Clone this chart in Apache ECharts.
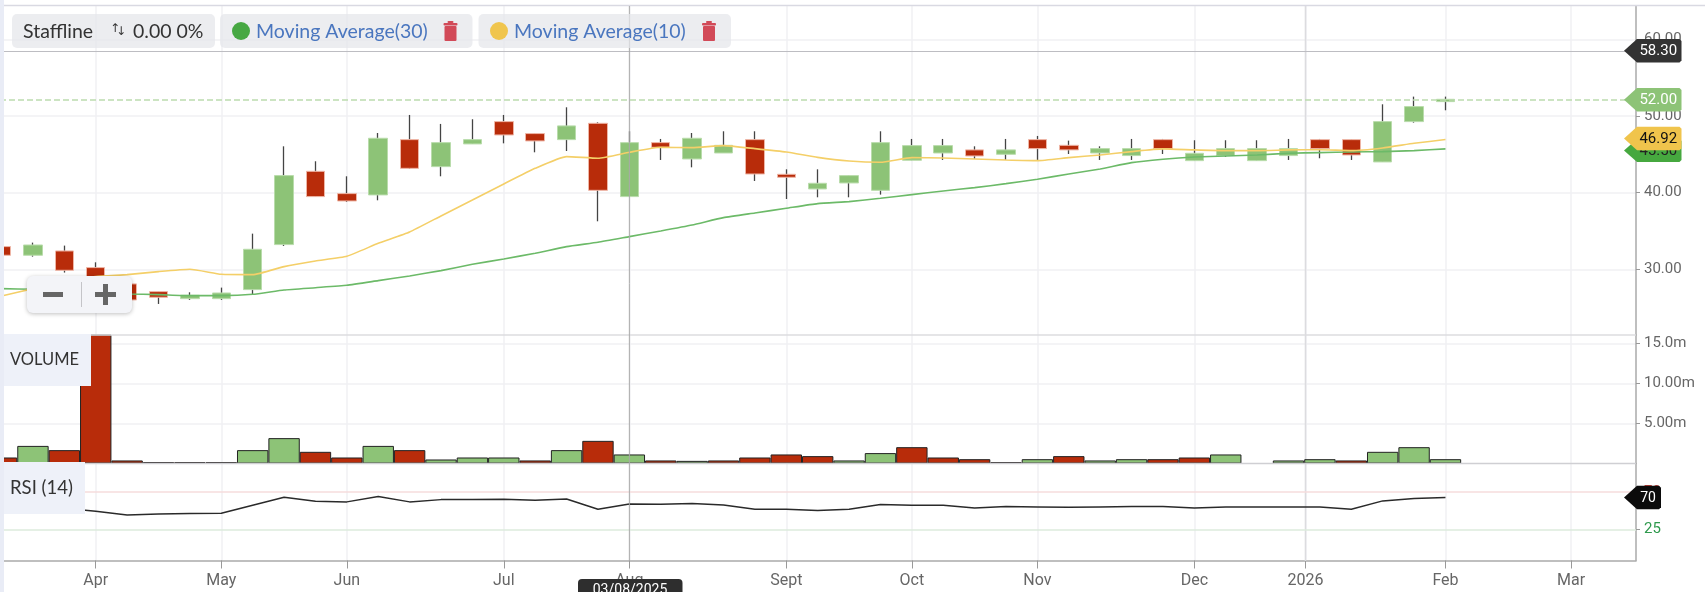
<!DOCTYPE html>
<html><head><meta charset="utf-8">
<style>html,body{margin:0;padding:0;background:#fff;overflow:hidden}#c{width:1705px;height:592px}</style>
<script src="https://cdn.jsdelivr.net/npm/echarts@6/dist/echarts.min.js"></script>
</head><body><div id="c"></div>
<script>
const opens=[32.96,31.83,32.39,30.22,28.09,27.09,26.17,26.17,27.35,33.22,42.78,39.87,39.7,46.91,43.39,46.35,49.26,47.7,46.91,49.04,39.48,46.52,44.39,45.17,46.91,42.39,40.48,41.26,40.3,44.22,45.17,45.57,45.0,46.91,46.17,45.17,44.83,46.91,44.17,44.83,44.17,44.83,46.91,46.91,44.0,49.26,51.87];
const closes=[31.83,33.17,29.87,28.1,26.0,26.35,26.61,26.91,32.61,42.22,39.48,38.91,47.09,43.17,46.52,46.91,47.52,46.74,48.7,40.3,46.52,45.91,47.09,46.17,42.43,42.0,41.22,42.22,46.52,46.13,46.13,44.78,45.57,45.74,45.57,45.74,45.74,45.74,45.13,45.74,45.74,45.74,45.74,44.91,49.26,51.22,52.17];
const lows=[31.83,31.65,29.57,27.9,25.9,25.48,26.0,26.0,26.65,33.04,39.48,38.78,39.0,43.09,42.13,46.35,46.43,45.26,45.43,36.26,39.48,44.26,43.3,45.17,41.52,39.17,39.39,39.39,39.74,44.22,44.26,44.39,44.26,44.26,45.04,44.26,44.26,45.04,44.17,44.65,44.17,44.26,44.48,44.26,44.0,49.13,50.74];
const highs=[32.96,33.48,33.09,30.91,28.3,27.09,27.0,27.61,34.65,46.04,44.09,42.13,47.78,50.13,48.96,49.57,50.13,47.7,51.13,49.17,48.0,47.0,47.78,48.0,48.0,43.04,43.04,42.22,48.0,47.0,47.0,46.04,47.0,47.39,46.78,46.04,47.0,47.0,46.83,46.83,46.83,47.0,47.0,46.91,51.52,52.52,52.52];
const ma30=[27.48,27.39,27.2,27.0,26.78,26.7,26.57,26.57,26.74,27.3,27.6,27.91,28.52,29.13,29.83,30.65,31.35,32.09,32.96,33.52,34.26,35.0,35.78,36.74,37.35,37.96,38.57,38.83,39.26,39.74,40.22,40.65,41.17,41.74,42.43,43.09,43.91,44.35,44.65,44.78,44.91,45.13,45.22,45.3,45.35,45.48,45.7];
const ma10=[26.52,27.48,28.39,29.04,29.3,29.7,30.0,29.35,29.3,30.35,31.09,31.7,33.39,34.87,36.96,39.04,41.13,43.17,44.7,44.48,45.26,45.91,45.87,46.13,45.74,45.3,44.6,44.13,43.96,44.57,44.52,44.39,44.26,44.17,44.57,44.91,45.35,45.7,45.57,45.48,45.48,45.57,45.6,45.48,45.83,46.43,46.92];
const volumes=[0.75,2.2,1.67,16.2,0.38,0.17,0.17,0.17,1.67,3.17,1.46,0.75,2.2,1.67,0.5,0.75,0.75,0.38,1.67,2.83,1.13,0.38,0.33,0.38,0.75,1.13,0.92,0.38,1.3,2.04,0.75,0.54,0.17,0.54,0.92,0.38,0.54,0.54,0.75,1.13,null,0.38,0.54,0.38,1.46,2.04,0.54];
const volumeUp=[0,1,0,0,0,0,0,0,1,1,0,0,1,0,1,1,1,0,1,0,1,0,1,0,0,0,0,1,1,0,0,0,0,1,0,1,1,0,0,1,1,1,1,0,1,1,1];
const rsi=[52.5,51.7,50.5,46.9,42.5,43.7,44.1,44.5,54.1,63.6,58.9,58.1,64.4,58.1,60.8,60.8,61.2,60,61.6,49.3,55.7,55.3,56.1,54.5,49.3,49.3,47.7,49.3,54.9,54.1,54.1,50.9,52.5,52.1,51.7,52.1,52.5,52.5,50.9,52.1,52.1,52.1,52.1,49.3,59.3,62,63.2];
const monthTicks=[3,7,11,16,20,25,29,33,38,41.54,46,50];
const monthLabels=['Apr','May','Jun','Jul','Aug','Sept','Oct','Nov','Dec','2026','Feb','Mar'];
const priceTicks=[30,40,50,60];
const volumeTicks=[5,10,15];
const volumeLabels=['5.00m','10.00m','15.0m'];
const rsiTicks=[25,70];
const lastPrice=52.1, crossPrice=58.5, ma10Last=46.92, ma30Last=45.5;

const GREEN='#8dc377',RED='#b82c0a';
const idx=a=>a.map((v,i)=>[i,v]);
const xMin=-0.05,xMax=52.07;
const chart=echarts.init(document.getElementById('c'),null,{renderer:'canvas'});
const font='Roboto';
function xAxisOf(gi,showLabels){
  return {type:'value',gridIndex:gi,min:xMin,max:xMax,
    axisLine:{show:showLabels,onZero:false,lineStyle:{color:'#aaa',width:1.5}},
    axisTick:{show:showLabels,customValues:monthTicks,length:8,lineStyle:{color:'#999'}},
    axisLabel:{show:showLabels,customValues:monthTicks,margin:12,color:'#666',fontFamily:font,fontSize:16,
      formatter:v=>monthLabels[monthTicks.indexOf(v)]||''},
    splitLine:{show:true,lineStyle:{color:'#f1f1f3',width:1.5}}};
}
function yAxisOf(gi,min,max,ticks,fmt,split,colorFn){
  return {type:'value',gridIndex:gi,position:'right',min,max,scale:true,
    axisLine:{show:true,onZero:false,lineStyle:{color:'#aaa',width:1.5}},
    axisTick:{show:true,customValues:ticks,length:4,lineStyle:{color:'#999'}},
    axisLabel:{customValues:ticks,margin:8,color:colorFn||'#666',fontFamily:font,fontSize:15,formatter:fmt},
    splitLine:{show:split,lineStyle:{color:'#f1f1f3',width:1.5}}};
}
const candleBase={type:'candlestick',xAxisIndex:0,yAxisIndex:0,silent:true,animation:false};
const wickData=opens.map((o,i)=>[i,o,closes[i],lows[i],highs[i]]);
const bodyData=opens.map((o,i)=>[i,o,closes[i],Math.min(o,closes[i]),Math.max(o,closes[i])]);
const hLine=(y,color,type,width)=>({silent:true,symbol:'none',animation:false,label:{show:false},
  data:[{yAxis:y}],lineStyle:{color,type,width}});
chart.setOption({
  animation:false,backgroundColor:'#fff',
  grid:[
    {left:0,width:1636,top:6,height:329,show:true,borderColor:'#dcdce0',borderWidth:0},
    {left:0,width:1636,top:335,height:128.5},
    {left:0,width:1636,top:463.5,height:97}
  ],
  xAxis:[xAxisOf(0,false),xAxisOf(1,false),xAxisOf(2,true)],
  yAxis:[
    yAxisOf(0,21.43,64.34,priceTicks,v=>v.toFixed(2),true),
    yAxisOf(1,0,16.06,volumeTicks,v=>volumeLabels[volumeTicks.indexOf(v)]||'',true),
    yAxisOf(2,-12,104,rsiTicks,v=>String(v),false,v=>v==='70'||v===70?'#c9423a':'#2f9a4d')
  ],
  series:[
    {...candleBase,name:'wick',barWidth:1,itemStyle:{color:'#444',color0:'#444',borderColor:'#444',borderColor0:'#444',borderWidth:1.3},data:wickData,
      markLine:hLine(lastPrice,'#bcdcae','dashed',1.5)},
    {...candleBase,name:'body',barWidth:19,itemStyle:{color:GREEN,color0:RED,borderColor:'#b9dcab',borderColor0:'#eeb5a5',borderWidth:1},data:bodyData,
      markLine:hLine(crossPrice,'#bdbdc2','solid',1)},
    {type:'line',name:'Moving Average(30)',xAxisIndex:0,yAxisIndex:0,data:idx(ma30),showSymbol:false,smooth:0.15,lineStyle:{color:'#6cba68',width:1.6},silent:true},
    {type:'line',name:'Moving Average(10)',xAxisIndex:0,yAxisIndex:0,data:idx(ma10),showSymbol:false,smooth:0.15,lineStyle:{color:'#f4cf68',width:1.6},silent:true},
    {type:'bar',name:'Volume',xAxisIndex:1,yAxisIndex:1,barWidth:31.39,silent:true,
      data:volumes.map((v,i)=>({value:[i,v],itemStyle:{color:volumeUp[i]?GREEN:RED,borderColor:'#222',borderWidth:1}}))},
    {type:'line',name:'RSI (14)',xAxisIndex:2,yAxisIndex:2,data:idx(rsi),showSymbol:false,lineStyle:{color:'#2a2a2a',width:1.5},silent:true,
      markLine:{silent:true,symbol:'none',animation:false,label:{show:false},data:[
        {yAxis:70,lineStyle:{color:'#f6dcdc',type:'solid',width:1.5}},
        {yAxis:25,lineStyle:{color:'#dcebdc',type:'solid',width:1.5}}]}}
  ]
});

const px=(gi,v)=>chart.convertToPixel({xAxisIndex:gi},v);
const py=(gi,v)=>chart.convertToPixel({yAxisIndex:gi},v);
const G=[];
const rect=(x,y,w,h,fill,r,extra)=>G.push({type:'rect',z:100,silent:true,shape:{x,y,width:w,height:h,r:r||0},style:Object.assign({fill},extra||{})});
const text=(x,y,t,fill,size,fam,align,z)=>G.push({type:'text',z:z||110,silent:true,x,y,style:{text:t,fill,fontSize:size,fontFamily:fam,align:align||'left',verticalAlign:'middle'}});
const line=(x1,y1,x2,y2,stroke,w,z)=>G.push({type:'line',z:z||50,silent:true,shape:{x1,y1,x2,y2},style:{stroke,lineWidth:w}});
const tag=(xl,xr,yc,h,fill,t,col,z,size)=>{
  const tip=xl,b=xl+13,r=xr;
  G.push({type:'polygon',z,silent:true,shape:{points:[[tip,yc],[b,yc-h/2],[r-2,yc-h/2],[r,yc-h/2+2],[r,yc+h/2-2],[r-2,yc+h/2],[b,yc+h/2]]},style:{fill}});
  G.push({type:'text',z:z+1,silent:true,x:(b+r)/2-1,y:yc+0.5,style:{text:t,fill:col,fontSize:size||15,fontFamily:font,align:'center',verticalAlign:'middle'}});
};
function trash(cx,cy){
  const c='#d24a58';
  rect(cx-6,cy-5,12,15,c,1,{});
  rect(cx-7,cy-8,14,2.5,c,1);
  rect(cx-3,cy-10,6,2,c,1);
}
// frame lines
line(0,5.5,1705,5.5,'#d9d9e2',1.5,5);
line(0,335,1636,335,'#dcdcdf',1.5,5);
line(0,463.5,1636,463.5,'#cfcfd3',1.5,60);
// year line and crosshair, placed through the axis scale
line(px(0,monthTicks[9]),6,px(0,monthTicks[9]),561,'#dcdcdf',1.5,1);
line(px(0,20),6,px(0,20),561,'#a8a8a8',1,60);
// strip at left
rect(0,0,4,592,'#e9ecf6');
// legend
rect(12,14,203,34,'rgba(228,230,234,0.72)',5);
text(23,31.5,'Staffline','#333',19.5,'Lato');
text(115,29,'↑','#333',12,'DejaVu Sans','center');
text(121,32,'↓','#333',12,'DejaVu Sans','center');
text(133,31.5,'0.00 0%','#333',19.5,'Lato');
rect(220,14,252.5,34,'rgba(228,230,234,0.72)',5);
G.push({type:'circle',z:105,silent:true,shape:{cx:241,cy:31,r:9},style:{fill:'#47a843'}});
text(256,31.5,'Moving Average(30)','#4a76bf',19.5,'Lato');
trash(450.5,31);
rect(478.5,14,252.5,34,'rgba(228,230,234,0.72)',5);
G.push({type:'circle',z:105,silent:true,shape:{cx:499,cy:31,r:9},style:{fill:'#f0c54d'}});
text(514,31.5,'Moving Average(10)','#4a76bf',19.5,'Lato');
trash(709,31);
// zoom control
rect(27,276,105,37,'#f3f4f8',6,{shadowBlur:4,shadowColor:'rgba(0,0,0,0.25)',shadowOffsetY:1});
rect(43,292,20,5,'#666');
rect(81,282,1,25,'#c4c4c8');
rect(95,292,21,5,'#666');
rect(103,284,5,21,'#666');
// pane labels
rect(4,334,87,52,'#eef1f9');
text(10,360,'VOLUME','#333',16.5,'Lato');
rect(4,462,81,52,'#eef1f9');
text(10,488,'RSI (14)','#333',18.5,'Lato');
// price tags
tag(1624,1681.5,py(0,ma30Last),23,'#46a83f',ma30Last.toFixed(2),'#222',120);
tag(1624,1681.5,py(0,ma10Last)-1,23.5,'#f0c44c',ma10Last.toFixed(2),'#111',123);
tag(1624,1681.5,py(0,lastPrice),23.5,'#8dc377','52.00','#fff',126);
tag(1624,1681.5,py(0,crossPrice),23.5,'#333','58.30','#fff',129);
tag(1624,1661,497.5,23.5,'#0b0b0b','70','#fff',132,14);
// date flag
rect(578,579,104.5,30,'#2e2e2e',4,{});
G[G.length-1].z=140;
text(630,590,'03/08/2025','#fff',14,font,'center',141);
chart.setOption({graphic:{elements:G}});
</script></body></html>
